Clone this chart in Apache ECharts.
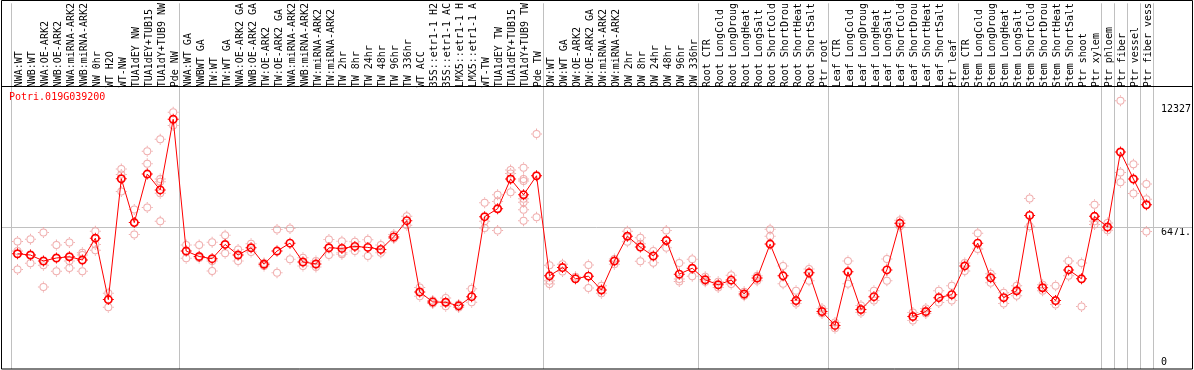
<!DOCTYPE html>
<html><head><meta charset="utf-8">
<script src="https://cdn.jsdelivr.net/npm/echarts@6/dist/echarts.min.js"></script>
<style>html,body{margin:0;padding:0;background:#fff}#c{width:1194px;height:370px}</style>
</head><body><div id="c"></div>
<script>
const geneId = 'Potri.019G039200';
const categories = [
 'NWA:WT','NWB:WT','NWA:OE-ARK2','NWB:OE-ARK2','NWA:miRNA-ARK2','NWB:miRNA-ARK2','NW 0hr','WT H2O','WT-NW','TUA1dEY NW','TUA1dEY+TUB15 NW','TUA1dY+TUB9 NW','Pde NW',
 'NWA:WT GA','NWBWT GA','TW:WT','TW:WT GA','NWA:OE-ARK2 GA','NWB:OE-ARK2 GA','TW:OE-ARK2','TW:OE-ARK2 GA','NWA:miRNA-ARK2 GA','NWB:miRNA-ARK2 GA','TW:miRNA-ARK2','TW:miRNA-ARK2 GA','TW 2hr','TW 8hr','TW 24hr','TW 48hr','TW 96hr','TW 336hr','WT ACC','35S::etr1-1 H2O','35S::etr1-1 ACC','LMX5::etr1-1 H2O','LMX5::etr1-1 ACC','WT-TW','TUA1dEY TW','TUA1dEY+TUB15 TW','TUA1dY+TUB9 TW','Pde TW',
 'OW:WT','OW:WT GA','OW:OE-ARK2','OW:OE-ARK2 GA','OW:miRNA-ARK2','OW:miRNA-ARK2 GA','OW 2hr','OW 8hr','OW 24hr','OW 48hr','OW 96hr','OW 336hr',
 'Root CTR','Root LongCold','Root LongDrought','Root LongHeat','Root LongSalt','Root ShortCold','Root ShortDrought','Root ShortHeat','Root ShortSalt','Ptr root',
 'Leaf CTR','Leaf LongCold','Leaf LongDrought','Leaf LongHeat','Leaf LongSalt','Leaf ShortCold','Leaf ShortDrought','Leaf ShortHeat','Leaf ShortSalt','Ptr leaf',
 'Stem CTR','Stem LongCold','Stem LongDrought','Stem LongHeat','Stem LongSalt','Stem ShortCold','Stem ShortDrought','Stem ShortHeat','Stem ShortSalt','Ptr shoot','Ptr xylem',
 'Ptr phloem','Ptr fiber','Ptr vessel','Ptr fiber vessel'
];
const meanValues = [
 5160,5096,4802,4949,5013,4851,5929,2891,8869,6698,9099,8315,11809,
 5292,5023,4915,5620,5096,5454,4640,5292,5684,4753,4655,5454,5424,5522,5473,5375,5993,6796,3268,2778,2759,2582,3038,6992,7384,8854,8070,9016,
 4067,4474,3920,4052,3366,4802,6027,5488,5047,5816,4150,4444,
 3871,3626,3856,3170,3954,5635,4067,2842,4214,2303,
 1617,4263,2401,3038,4361,6664,2058,2303,2989,3136,
 4557,5684,3969,2989,3332,7056,3479,2842,4361,3920,7007,
 6483,10192,8854,7580
];
const replicateValues = [
 [5767,5292,4376],[5880,5096,4689],[6208,4591,3513],[5586,4297],[5718,4802,4459],[5209,5096,4297],[6272,5620,5326],[3200,2514],[9344,9080,8232],[7350,6110],[10226,9604,7448],[10814,8854,8722,8149,6762],[12152,11500],
 [5586,4934],[5586,4949],[5733,4802,4312],[6076,5179],[5375,4802],[5650,5243],[4704,4557],[6355,4214],[6404,4885],[4964,4557],[4802,4508],[5865,5096],[5782,5209,5130],[5748,5292],[5846,5047],[5586,5209],[6110,5914],[7007,6566],[3494,3053],[2842,2695],[2974,2563],[2646,2499],[3430,2759],[7678,6762,6434],[8070,7742,6306],[9295,9129,8198],[9408,8854,8756,7874,7708,7335,6796],[11074,6958],
 [4591,3822,3660],[4640,4278],[4018],[4606,3464],[3577,3200],[4900,4640],[6272,5748],[5944,5650,4787],[5292,4719],[6306,5454],[4704,3905,3788],[4885,4052],
 [4018,3773],[3773,3494],[4101,3660],[3283,3087],[4067,3822],[6370,6027],[4557,3675],[3332,2695],[4410,3822],[2450,2205],
 [1764,1470],[4802,3675],[2597,2254],[3332,2842],[4900,3822],[6811,6517],[2254,1862],[2450,2205],[3332,2744],[3577,2842],
 [4704,4312],[6174,5390],[4165,3724],[3234,2695],[3577,3087],[7889,6517],[3626,3332],[3577,2646],[4802,4067],[4704,2548],[7580,6762,6600],
 [6679,6321],[12725,9178,8688],[9589,8134],[8609,7855,6257]
];
const groupStarts = [0,13,41,53,63,73,84,85,86,87];
const yTickValues = [0, 6471.5, 12327];
const yTickLabels = ['0', '6471.', '12327'];

const FONT = 'DejaVu Sans Mono';
const repData = [];
replicateValues.forEach((arr, i) => arr.forEach(v => repData.push([i, v])));

function ringSymbol(outer, inner) {
  const c = 5.5;
  const ring = 'M' + (c - outer) + ',' + c + ' A' + outer + ',' + outer + ' 0 1,1 ' + (c + outer) + ',' + c +
    ' A' + outer + ',' + outer + ' 0 1,1 ' + (c - outer) + ',' + c + ' Z ' +
    'M' + (c - inner) + ',' + c + ' A' + inner + ',' + inner + ' 0 1,0 ' + (c + inner) + ',' + c +
    ' A' + inner + ',' + inner + ' 0 1,0 ' + (c - inner) + ',' + c + ' Z ';
  const ticks = 'M5,0 L6,0 L6,1.3 L5,1.3 Z M5,9.7 L6,9.7 L6,11 L5,11 Z M0,5 L1.3,5 L1.3,6 L0,6 Z M9.7,5 L11,5 L11,6 L9.7,6 Z';
  return 'path://' + ring + ticks;
}
const yRich = {
  a: {fontFamily: FONT, fontSize: 10, color: '#000', lineHeight: 9},
  b: {fontFamily: FONT, fontSize: 10, color: '#000', lineHeight: 11},
  c: {fontFamily: FONT, fontSize: 10, color: '#000', lineHeight: 2}
};

const chart = echarts.init(document.getElementById('c'), null, {renderer: 'canvas'});
chart.setOption({
  animation: false,
  backgroundColor: '#fff',
  title: {
    text: geneId, left: 9, top: 92, padding: 0,
    textStyle: {color: '#ff0000', fontFamily: FONT, fontSize: 10, fontWeight: 'normal'}
  },
  grid: {left: 11, right: 39, top: 0, bottom: 1, containLabel: false},
  xAxis: {
    type: 'category', data: categories, position: 'top', offset: -86,
    boundaryGap: true,
    axisLine: {show: false}, axisTick: {show: false},
    axisLabel: {
      interval: 0, rotate: 90, margin: 2, color: '#000', fontFamily: FONT, fontSize: 10,
      verticalAlign: 'top', lineHeight: 4,
      formatter: v => v.slice(0, 14)
    },
    splitLine: {
      show: true,
      interval: (idx) => groupStarts.indexOf(idx) >= 0,
      lineStyle: {color: '#c0c0c0', width: 1}
    }
  },
  yAxis: {
    type: 'value', position: 'right', min: -539, max: 17542,
    axisLine: {show: false}, axisTick: {show: false}, splitLine: {show: false},
    axisLabel: {
      customValues: yTickValues, margin: 8, color: '#000', fontFamily: FONT, fontSize: 10,
      verticalAlign: 'top', rich: yRich,
      formatter: v => { const k = yTickValues.indexOf(v); return k >= 0 ? '{' + 'abc'[k] + '|' + yTickLabels[k] + '}' : ''; }
    }
  },
  series: [
    {
      type: 'scatter', data: repData, symbol: ringSymbol(4, 3), symbolSize: 11, z: 2,
      itemStyle: {color: '#ec9a9a'}
    },
    {
      type: 'line', data: meanValues, symbol: ringSymbol(4.5, 2.8), symbolSize: 11, z: 3,
      lineStyle: {color: '#ff0000', width: 1},
      itemStyle: {color: '#ff0000'}
    }
  ]
});
const yMid = Math.round(chart.convertToPixel({yAxisIndex: 0}, yTickValues[1])) + 0.5;
chart.setOption({
  graphic: [
    {type: 'line', z: 1, shape: {x1: 1.5, y1: yMid, x2: 1192, y2: yMid}, style: {stroke: '#c0c0c0', lineWidth: 1}},
    {type: 'line', z: 10, shape: {x1: 1.5, y1: 86.5, x2: 1192.5, y2: 86.5}, style: {stroke: '#000', lineWidth: 1}},
    {type: 'rect', z: 10, shape: {x: 1.5, y: 0.5, width: 1191, height: 368.5}, style: {fill: null, stroke: '#000', lineWidth: 1}}
  ]
});
</script>
</body></html>
